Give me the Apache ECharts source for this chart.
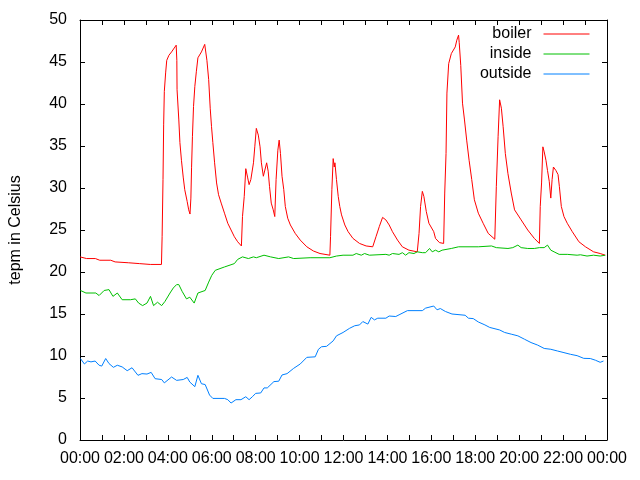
<!DOCTYPE html>
<html>
<head>
<meta charset="utf-8">
<style>html,body{margin:0;padding:0;background:#fff;}#c{width:640px;height:480px;}</style>
<script src="https://cdn.jsdelivr.net/npm/echarts@6/dist/echarts.min.js"></script>
</head>
<body>
<div id="c"></div>
<script>
// ---- data (hours of day, temperature in Celsius) ----
const seriesNames = ['boiler', 'inside', 'outside'];
const xTickHours = [0,2,4,6,8,10,12,14,16,18,20,22,24];

const boilerHours = [0,0.3,0.7,0.9,1.4,1.6,2.2,2.7,3.2,3.71,3.74,3.78,3.81,3.84,3.9,3.95,4.05,4.17,4.38,4.41,4.42,4.5,4.55,4.62,4.7,4.77,4.88,4.95,5.01,5.05,5.08,5.12,5.17,5.23,5.3,5.37,5.53,5.68,5.78,5.86,5.93,5.99,6.05,6.13,6.22,6.31,6.43,6.58,6.73,6.88,7.03,7.18,7.35,7.40,7.48,7.55,7.63,7.70,7.78,7.90,7.96,8.03,8.12,8.20,8.26,8.35,8.41,8.50,8.57,8.63,8.71,8.80,8.87,8.93,9.01,9.07,9.13,9.20,9.28,9.35,9.46,9.58,9.80,10.03,10.33,10.63,10.93,11.38,11.41,11.47,11.53,11.58,11.61,11.68,11.76,11.83,11.91,12.06,12.21,12.43,12.73,13.03,13.33,13.48,13.63,13.78,13.93,14.08,14.23,14.46,14.68,14.98,15.36,15.44,15.51,15.59,15.66,15.77,15.89,16.11,16.19,16.37,16.56,16.61,16.67,16.71,16.79,16.91,17.09,17.16,17.24,17.27,17.34,17.42,17.51,17.61,17.72,17.84,17.96,18.14,18.36,18.59,18.89,18.96,19.04,19.11,19.19,19.27,19.37,19.49,19.64,19.79,20.09,20.39,20.69,20.92,20.96,21.02,21.08,21.14,21.22,21.29,21.37,21.44,21.50,21.56,21.67,21.77,21.83,21.92,22.04,22.19,22.42,22.72,23.02,23.39,23.69,23.92];
const boilerTemps = [21.8,21.6,21.6,21.4,21.4,21.2,21.1,21.0,20.9,20.9,24.2,31.0,37.6,41.5,43.7,45.2,45.8,46.2,47.0,45.2,41.7,38.1,35.4,33.3,31.3,29.8,28.4,27.4,26.9,28.8,32.4,36.1,39.7,42.1,43.9,45.5,46.2,47.1,45.2,42.9,39.5,37.3,35.4,33.0,30.6,29.2,28.2,27.0,25.8,25.0,24.2,23.6,23.1,26.6,29.0,32.3,31.3,30.4,31.0,33.0,34.9,37.1,36.3,34.9,33.0,31.4,31.6,33.0,32.0,30.2,28.2,27.4,26.6,31.0,34.5,35.7,34.1,31.4,29.8,27.8,26.4,25.6,24.6,23.8,23.0,22.5,22.2,22.0,24.2,29.8,33.5,32.5,33.0,31.0,29.0,27.8,26.8,25.6,24.8,24.0,23.4,23.1,23.0,24.2,25.4,26.5,26.2,25.6,24.8,23.8,23.0,22.6,22.4,24.6,27.8,29.6,29.0,27.2,25.8,24.8,24.0,23.5,23.4,29.4,34.1,41.3,44.8,46.0,46.8,47.6,48.2,47.3,44.6,40.1,38.1,35.7,33.3,31.0,28.6,27.0,25.8,24.6,23.9,30.2,36.1,40.5,39.5,37.3,34.1,31.7,29.4,27.4,26.2,25.0,24.0,23.4,27.8,30.6,34.9,34.3,33.3,32.1,30.8,28.8,31.0,32.5,32.1,31.6,30.2,27.8,26.6,25.8,24.8,23.6,23.0,22.4,22.2,22.0];

const insideHours = [0.02,0.27,0.72,0.87,1.1,1.32,1.5,1.7,1.92,2.3,2.52,2.67,2.85,3.05,3.21,3.35,3.53,3.72,3.87,4.1,4.25,4.4,4.5,4.65,4.85,5.0,5.2,5.37,5.7,5.86,6.0,6.16,6.58,7.03,7.18,7.4,7.67,7.9,8.03,8.38,8.68,9.05,9.5,9.73,10.48,11.38,11.68,11.98,12.43,12.58,12.81,12.96,13.18,13.93,14.08,14.23,14.53,14.68,14.83,14.98,15.21,15.36,15.59,15.74,15.92,16.04,16.19,16.34,16.49,16.91,17.24,18.14,18.74,18.96,19.49,19.71,19.94,20.09,20.39,20.69,20.92,21.14,21.29,21.44,21.59,21.82,22.19,22.64,22.79,23.09,23.39,23.69,23.92];
const insideTemps = [17.8,17.5,17.5,17.2,17.8,17.9,17.1,17.5,16.7,16.7,16.8,16.3,16.0,16.3,17.1,16.0,16.4,16.0,16.5,17.5,18.1,18.5,18.5,17.7,16.8,17.0,16.3,17.5,17.8,18.8,19.6,20.2,20.6,21.0,21.5,21.8,21.6,21.8,21.7,22.0,21.8,21.6,21.8,21.6,21.7,21.7,21.9,22.0,22.0,22.2,22.0,22.2,22.0,22.1,22.0,22.2,22.1,22.3,22.0,22.3,22.2,22.4,22.3,22.3,22.8,22.4,22.6,22.4,22.6,22.8,23.0,23.0,23.1,22.9,22.8,22.9,23.2,22.9,22.8,22.8,22.9,22.9,23.2,22.6,22.4,22.1,22.1,22.0,22.05,21.9,22.0,21.9,22.0];

const outsideHours = [0.02,0.2,0.35,0.5,0.69,0.87,0.99,1.17,1.32,1.52,1.7,1.92,2.15,2.37,2.64,2.82,3.05,3.24,3.42,3.72,3.84,4.17,4.4,4.7,4.88,5.0,5.23,5.37,5.53,5.7,5.9,6.05,6.58,6.73,6.88,7.1,7.33,7.55,7.7,7.85,8.0,8.23,8.38,8.53,8.83,9.05,9.2,9.43,9.73,10.03,10.33,10.71,10.86,11.0,11.23,11.53,11.68,11.98,12.28,12.51,12.73,12.88,13.11,13.26,13.41,13.56,13.93,14.08,14.38,14.53,14.91,15.59,15.74,16.11,16.26,16.41,16.64,16.94,17.01,17.54,17.69,17.91,18.14,18.44,18.66,19.11,19.34,19.64,19.94,20.24,20.54,20.84,21.14,21.44,21.74,22.04,22.34,22.64,22.94,23.24,23.47,23.69,23.84];
const outsideTemps = [9.7,9.05,9.4,9.3,9.4,8.9,8.8,9.7,9.1,8.65,8.9,8.7,8.25,8.6,7.7,7.9,7.85,8.05,7.3,7.2,6.8,7.5,7.1,7.2,7.45,6.9,6.35,7.7,6.7,6.6,5.35,4.95,4.95,4.8,4.4,4.8,4.8,5.15,4.8,5.15,5.55,5.6,6.2,6.2,6.95,7.0,7.74,7.9,8.53,9.05,9.84,9.9,10.8,11.1,11.15,11.8,12.4,12.8,13.3,13.6,13.7,14.1,13.8,14.6,14.3,14.5,14.5,14.76,14.7,14.9,15.4,15.4,15.7,15.95,15.5,15.65,15.3,15.0,14.85,14.85,14.5,14.45,14.05,13.7,13.4,13.1,12.8,12.6,12.4,12.0,11.6,11.3,10.9,10.8,10.6,10.4,10.2,10.04,9.72,9.7,9.5,9.25,9.4];

const seriesColors = ['#ff0000', '#00c000', '#0080ff'];

// ---- build chart ----
const FONT = "'Liberation Sans', Arial, sans-serif";
function pairs(h, v) { return h.map((x, i) => [x, v[i]]); }
function hourLabel(v) {
  if (xTickHours.indexOf(v) < 0) return '';
  const hh = v % 24;
  return (hh < 10 ? '0' : '') + hh + ':00';
}
const hoursList = [boilerHours, insideHours, outsideHours];
const tempsList = [boilerTemps, insideTemps, outsideTemps];

const chart = echarts.init(document.getElementById('c'), null, {renderer: 'canvas'});
const axisBase = {
  type: 'value',
  axisLine: {show: true, onZero: false, lineStyle: {color: '#000', width: 1}},
  axisTick: {show: true, inside: true, length: 5, lineStyle: {color: '#000', width: 1}},
  splitLine: {show: false}
};
chart.setOption({
  animation: false,
  backgroundColor: '#fff',
  grid: {left: 74, right: 33, top: 20, bottom: 40, containLabel: false},
  legend: {
    orient: 'vertical', right: 50, top: 26, align: 'right', padding: 0,
    itemWidth: 46, itemHeight: 13, itemGap: 4,
    itemStyle: {opacity: 0, borderWidth: 0},
    lineStyle: {width: 1},
    textStyle: {fontFamily: FONT, fontSize: 16, lineHeight: 13, color: '#000', padding: [0, 7, 0, 0]},
    data: seriesNames
  },
  xAxis: [
    Object.assign({}, axisBase, {
      position: 'bottom', min: 0, max: 24, interval: 1,
      axisLabel: {show: true, margin: 11, color: '#000', fontFamily: FONT, fontSize: 16, formatter: hourLabel}
    }),
    Object.assign({}, axisBase, {
      position: 'top', min: 0, max: 24, interval: 1, axisLabel: {show: false}
    })
  ],
  yAxis: [
    Object.assign({}, axisBase, {
      position: 'left', min: 0, max: 50, interval: 5,
      name: 'tepm in Celsius', nameLocation: 'middle', nameGap: 56, nameRotate: 90,
      nameTextStyle: {fontFamily: FONT, fontSize: 16, color: '#000'},
      axisLabel: {show: true, margin: 13, color: '#000', fontFamily: FONT, fontSize: 16}
    }),
    Object.assign({}, axisBase, {
      position: 'right', min: 0, max: 50, interval: 5, axisLabel: {show: false}
    })
  ],
  series: seriesNames.map((name, i) => ({
    name: name, type: 'line', xAxisIndex: 0, yAxisIndex: 0,
    data: pairs(hoursList[i], tempsList[i]),
    symbol: 'none', showSymbol: false,
    lineStyle: {color: seriesColors[i], width: 1},
    itemStyle: {color: seriesColors[i]}
  }))
});
</script>
</body>
</html>
